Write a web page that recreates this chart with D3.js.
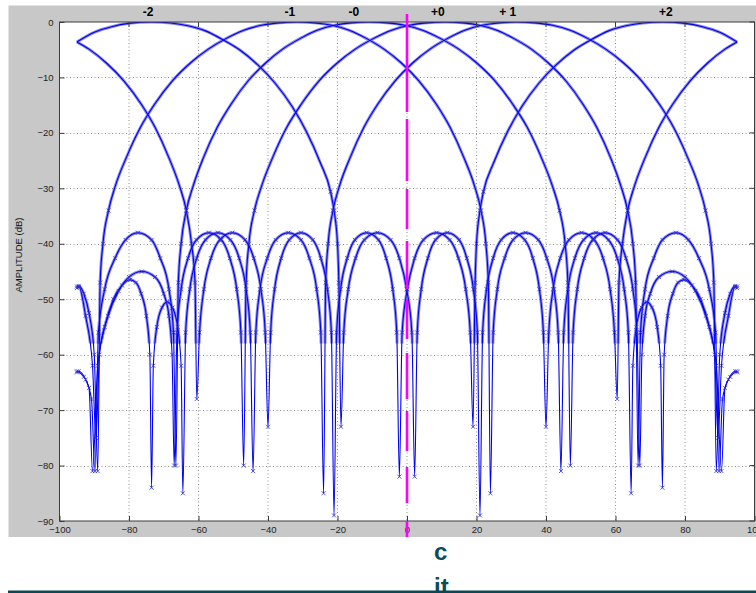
<!DOCTYPE html>
<html>
<head>
<meta charset="utf-8">
<script src="https://cdn.jsdelivr.net/npm/d3@7"></script>
<style>
  body { margin: 0; background: #ffffff; }
  svg { display: block; }
</style>
</head>
<body>
<div class="pattern-container"></div>
<script>
// beam patterns, angle (deg) vs amplitude (dB)
const beamM2 = [[-95,-3.6],[-90,-1.85],[-85,-0.85],[-80,-0.25],[-73.5,0],[-68,-0.18],[-63,-0.68],[-58,-1.6],[-53,-3.2],[-48,-5.1],[-43,-7.7],[-38,-11],[-33,-15.3],[-29,-19.7],[-25,-25.3],[-22,-30.6],[-21,-34],[-20,-40],[-19.6,-47],[-19,-73],
  [-18.2,-56],[-16.9,-48.2],[-14.8,-42.6],[-12.3,-39.3],[-8.5,-38],[-4.7,-39.3],[-2.2,-42.6],[-0.1,-48.2],[1.4,-56],[2.2,-82],
  [2.95,-56],[4.1,-48.2],[6,-42.6],[8.2,-39.3],[11.6,-38],[15,-39.3],[17.2,-42.6],[19.1,-48.2],[20.25,-56],[21,-89],
  [21.76,-56],[22.9,-48.2],[24.8,-42.6],[27.1,-39.3],[30.5,-38],[33.9,-39.3],[36.2,-42.6],[38.1,-48.2],[39.24,-56],[40,-73],
  [40.8,-56],[42.05,-48.2],[44.1,-42.6],[46.6,-39.3],[50.25,-38],[53.9,-39.3],[56.4,-42.6],[58.45,-48.2],[59.7,-56],[60.5,-68],
  [61,-47],[62,-40],[63.5,-34],[65.5,-29.5],[68.5,-24.5],[72.5,-19],[76.5,-14.8],[81.5,-10.6],[86.5,-7.4],[91.5,-4.9],[95,-3.6]]

const beamM1 = [[-95,-47.7],[-94.5,-47.6],[-93,-49],[-91.5,-52.5],[-90,-60],[-89,-81],
  [-88.3,-47],[-87.5,-40],[-85.9,-34],[-83.9,-29.5],[-80.8,-24.5],[-76.7,-19],[-72.6,-14.8],[-67.5,-10.6],[-62.35,-7.4],[-57.2,-4.9],[-52.1,-3.0],[-47,-1.5],[-41.9,-0.6],[-36.7,-0.15],[-31.6,0],[-26.6,-0.15],[-21.6,-0.6],[-16.6,-1.5],[-11.6,-3.0],[-6.6,-4.9],[-1.6,-7.4],[3.4,-10.6],[8.4,-14.8],[12.4,-19],[16.4,-24.5],[19.4,-29.5],[21.3,-34],[22.7,-40],[23.4,-47],[24,-85],
  [24.8,-56],[26,-48.2],[28.1,-42.6],[30.5,-39.3],[34.15,-38],[37.8,-39.3],[40.2,-42.6],[42.3,-48.2],[43.5,-56],[44.3,-81],
  [45.1,-56],[46.3,-48.2],[48.3,-42.6],[50.8,-39.3],[54.4,-38],[58,-39.3],[60.5,-42.6],[62.5,-48.2],[63.7,-56],[64.5,-85],
  [65,-62],[66,-55],[67.5,-51.5],[69,-50.5],[70.5,-51.5],[72,-55],[73,-62],[73.5,-84],
  [74,-60],[75,-53],[76.5,-49],[78,-47],[79.7,-46.5],[82,-47.5],[84.5,-50],[87,-55],[89,-62],[90.5,-81],
  [91.5,-66],[93,-64],[95,-63]]

const beamM0 = [[-95,-63.2],[-94.5,-63],[-92.5,-64.5],[-90.8,-68],[-89.8,-81],
  [-88.8,-56],[-87,-48.2],[-84,-42.6],[-81,-39.3],[-77.4,-38],[-73.5,-39.3],[-71,-42.6],[-68.5,-48.2],[-67.2,-56],[-66.5,-80],
  [-65.8,-47],[-65,-40],[-63.5,-34],[-61.5,-29.5],[-58.6,-24.5],[-54.6,-19],[-50.6,-14.8],[-45.7,-10.6],[-40.7,-7.4],[-35.8,-4.9],[-30.8,-3.0],[-25.9,-1.5],[-20.9,-0.6],[-16,-0.15],[-11,0],[-5.8,-0.15],[-0.64,-0.6],[4.5,-1.5],[9.7,-3.0],[14.9,-4.9],[20.1,-7.4],[25.3,-10.6],[30.4,-14.8],[34.6,-19],[38.7,-24.5],[41.8,-29.5],[43.9,-34],[45.5,-40],[46.3,-47],[47,-80],
  [47.8,-56],[49,-48.2],[51,-42.6],[53.4,-39.3],[57,-38],[60.6,-39.3],[63,-42.6],[65,-48.2],[66.2,-56],[67,-80],
  [67.6,-60],[68.5,-53],[70,-49],[72.5,-46],[76.3,-45],[80,-46],[83,-48.5],[86,-53],[88.5,-60],[89.5,-75],
  [90.5,-62],[92.5,-53],[94.4,-47.8],[95,-48]]

const beamP0 = [[-95,-48],[-94.4,-47.8],[-92.5,-53],[-90.5,-62],[-89.5,-75],
  [-88.5,-60],[-86,-53],[-83,-48.5],[-80,-46],[-76.3,-45],[-72.5,-46],[-70,-49],[-68.5,-53],[-67.6,-60],[-67,-80],
  [-66.2,-56],[-65,-48.2],[-63,-42.6],[-60.6,-39.3],[-57,-38],[-53.4,-39.3],[-51,-42.6],[-49,-48.2],[-47.8,-56],[-47,-80],
  [-46.3,-47],[-45.5,-40],[-43.9,-34],[-41.8,-29.5],[-38.7,-24.5],[-34.6,-19],[-30.4,-14.8],[-25.3,-10.6],[-20.1,-7.4],[-14.9,-4.9],[-9.7,-3.0],[-4.5,-1.5],[0.64,-0.6],[5.8,-0.15],[11,0],[16,-0.15],[20.9,-0.6],[25.9,-1.5],[30.8,-3.0],[35.8,-4.9],[40.7,-7.4],[45.7,-10.6],[50.6,-14.8],[54.6,-19],[58.6,-24.5],[61.5,-29.5],[63.5,-34],[65,-40],[65.8,-47],[66.5,-80],
  [67.2,-56],[68.5,-48.2],[71,-42.6],[73.5,-39.3],[77.4,-38],[81,-39.3],[84,-42.6],[87,-48.2],[88.8,-56],[89.8,-81],
  [90.8,-68],[92.5,-64.5],[94.5,-63],[95,-63.2]]

const beamP1 = [[-95,-63],[-93,-64],[-91.5,-66],[-90.5,-81],
  [-89,-62],[-87,-55],[-84.5,-50],[-82,-47.5],[-79.7,-46.5],[-78,-47],[-76.5,-49],[-75,-53],[-74,-60],[-73.5,-84],
  [-73,-62],[-72,-55],[-70.5,-51.5],[-69,-50.5],[-67.5,-51.5],[-66,-55],[-65,-62],[-64.5,-85],
  [-63.7,-56],[-62.5,-48.2],[-60.5,-42.6],[-58,-39.3],[-54.4,-38],[-50.8,-39.3],[-48.3,-42.6],[-46.3,-48.2],[-45.1,-56],[-44.3,-81],
  [-43.5,-56],[-42.3,-48.2],[-40.2,-42.6],[-37.8,-39.3],[-34.15,-38],[-30.5,-39.3],[-28.1,-42.6],[-26,-48.2],[-24.8,-56],[-24,-85],
  [-23.4,-47],[-22.7,-40],[-21.3,-34],[-19.4,-29.5],[-16.4,-24.5],[-12.4,-19],[-8.4,-14.8],[-3.4,-10.6],[1.6,-7.4],[6.6,-4.9],[11.6,-3.0],[16.6,-1.5],[21.6,-0.6],[26.6,-0.15],[31.6,0],[36.7,-0.15],[41.9,-0.6],[47,-1.5],[52.1,-3.0],[57.2,-4.9],[62.35,-7.4],[67.5,-10.6],[72.6,-14.8],[76.7,-19],[80.8,-24.5],[83.9,-29.5],[85.9,-34],[87.5,-40],[88.3,-47],[89,-81],
  [90,-60],[91.5,-52.5],[93,-49],[94.5,-47.6],[95,-47.7]]

const beamP2 = [[-95,-3.6],[-91.5,-4.9],[-86.5,-7.4],[-81.5,-10.6],[-76.5,-14.8],[-72.5,-19],[-68.5,-24.5],[-65.5,-29.5],[-63.5,-34],[-62,-40],[-61,-47],[-60.5,-68],
  [-59.7,-56],[-58.45,-48.2],[-56.4,-42.6],[-53.9,-39.3],[-50.25,-38],[-46.6,-39.3],[-44.1,-42.6],[-42.05,-48.2],[-40.8,-56],[-40,-73],
  [-39.24,-56],[-38.1,-48.2],[-36.2,-42.6],[-33.9,-39.3],[-30.5,-38],[-27.1,-39.3],[-24.8,-42.6],[-22.9,-48.2],[-21.76,-56],[-21,-89],
  [-20.25,-56],[-19.1,-48.2],[-17.2,-42.6],[-15,-39.3],[-11.6,-38],[-8.2,-39.3],[-6,-42.6],[-4.1,-48.2],[-2.95,-56],[-2.2,-82],
  [-1.4,-56],[0.1,-48.2],[2.2,-42.6],[4.7,-39.3],[8.5,-38],[12.3,-39.3],[14.8,-42.6],[16.9,-48.2],[18.2,-56],[19,-73],
  [19.6,-47],[20,-40],[21,-34],[22,-30.6],[25,-25.3],[29,-19.7],[33,-15.3],[38,-11],[43,-7.7],[48,-5.1],[53,-3.2],[58,-1.6],[63,-0.68],[68,-0.18],[73.5,0],[80,-0.25],[85,-0.85],[90,-1.85],[95,-3.6]]

const beams = [beamM2, beamM1, beamM0, beamP0, beamP1, beamP2]
const beamNames = ['-2', '-1', '-0', '+0', '+ 1', '+2']
const nameAt = [-74.5, -33.7, -15.3, 8.9, 29, 74.5]

const xTicks = [-100, -80, -60, -40, -20, 0, 20, 40, 60, 80, 100]
const yTicks = [0, -10, -20, -30, -40, -50, -60, -70, -80, -90]
const markerAngle = 0

let dims = {
    width: 756,
    height: 593,
    margin: { top: 22, bottom: 72, left: 59.5, right: 1.5 }
}

const svg = d3.select('.pattern-container')
    .append('svg')
    .attr('width', dims.width)
    .attr('height', dims.height)

const plotW = dims.width - dims.margin.left - dims.margin.right
const plotH = dims.height - dims.margin.top - dims.margin.bottom

// grey figure background
svg.append('rect')
    .attr('x', 8.5).attr('y', 5.5)
    .attr('width', dims.width - 8.5).attr('height', 531.5)
    .attr('fill', '#c8c8c8')

const xScale = d3.scaleLinear().domain([-100, 100]).range([0, plotW])
const yScale = d3.scaleLinear().domain([-90, 0]).range([plotH, 0])

const container = svg.append('g')
    .attr('transform', `translate(${dims.margin.left},${dims.margin.top})`)

container.append('rect')
    .attr('width', plotW).attr('height', plotH)
    .attr('fill', '#ffffff')

container.append('clipPath').attr('id', 'plotclip')
    .append('rect').attr('width', plotW).attr('height', plotH)

// the thick look of the dense markers stops around -58 dB, spikes below are thin
container.append('clipPath').attr('id', 'haloclip')
    .append('rect').attr('width', plotW).attr('height', yScale(-58))

// dotted grid
container.append('g')
    .selectAll('line')
    .data(xTicks.slice(1, -1))
    .join('line')
    .attr('x1', d => xScale(d)).attr('x2', d => xScale(d))
    .attr('y1', 0).attr('y2', plotH)
    .attr('stroke', '#8c8c8c').attr('stroke-width', 1)
    .attr('stroke-dasharray', '1,2.5')

container.append('g')
    .selectAll('line')
    .data(yTicks.slice(1, -1))
    .join('line')
    .attr('x1', 0).attr('x2', plotW)
    .attr('y1', d => Math.round(yScale(d)) + 0.5).attr('y2', d => Math.round(yScale(d)) + 0.5)
    .attr('stroke', '#8c8c8c').attr('stroke-width', 1)
    .attr('stroke-dasharray', '1,2.5')

// beam curves
const line = d3.line()
    .x(d => xScale(d[0]))
    .y(d => yScale(d[1]))
    .curve(d3.curveMonotoneX)

const curves = container.append('g').attr('clip-path', 'url(#plotclip)')

curves.append('g').attr('clip-path', 'url(#haloclip)')
    .selectAll('path')
    .data(beams)
    .join('path')
    .attr('d', line)
    .attr('fill', 'none')
    .attr('stroke', '#8c8ce4')
    .attr('stroke-width', 3)
    .attr('stroke-linejoin', 'round')

curves.append('g')
    .selectAll('path')
    .data(beams)
    .join('path')
    .attr('d', line)
    .attr('fill', 'none')
    .attr('stroke', '#0000f4')
    .attr('stroke-width', 1.1)
    .attr('stroke-linejoin', 'round')

// x markers at the lower samples
const lowPoints = beams.flat().filter(d => d[1] < -30)
curves.selectAll('path.mark')
    .data(lowPoints)
    .join('path')
    .attr('class', 'mark')
    .attr('transform', d => `translate(${xScale(d[0])},${yScale(d[1])})`)
    .attr('d', 'M-2,-2L2,2M-2,2L2,-2')
    .attr('stroke', '#3030d0')
    .attr('stroke-width', 0.8)

// box and ticks
const boxColor = '#3c3c3c'
container.append('rect')
    .attr('width', plotW).attr('height', plotH)
    .attr('fill', 'none').attr('stroke', boxColor).attr('stroke-width', 1)

const xAxis = d3.axisBottom(xScale).tickValues(xTicks).tickSize(-5).tickPadding(5)
const yAxis = d3.axisLeft(yScale).tickValues(yTicks).tickSize(-5).tickPadding(6)

const xAxisGroup = container.append('g')
    .attr('transform', `translate(0, ${plotH})`)
    .call(xAxis)
xAxisGroup.select('.domain').remove()
xAxisGroup.selectAll('line').attr('stroke', boxColor)
xAxisGroup.selectAll('text')
    .attr('font-family', 'Liberation Sans, Arial, sans-serif')
    .attr('font-size', '9.5px')
    .attr('fill', '#1e1e1e')

const yAxisGroup = container.append('g').call(yAxis)
yAxisGroup.select('.domain').remove()
yAxisGroup.selectAll('line').attr('stroke', boxColor)
yAxisGroup.selectAll('text')
    .attr('font-family', 'Liberation Sans, Arial, sans-serif')
    .attr('font-size', '9.5px')
    .attr('fill', '#1e1e1e')

// ticks on the right and top edges
container.append('g')
    .selectAll('line')
    .data(yTicks)
    .join('line')
    .attr('x1', plotW).attr('x2', plotW - 5)
    .attr('y1', d => yScale(d)).attr('y2', d => yScale(d))
    .attr('stroke', boxColor)
container.append('g')
    .selectAll('line')
    .data(xTicks)
    .join('line')
    .attr('x1', d => xScale(d)).attr('x2', d => xScale(d))
    .attr('y1', 0).attr('y2', 5)
    .attr('stroke', boxColor)

// y label
container.append('text')
    .attr('transform', `translate(${22 - dims.margin.left}, ${255 - dims.margin.top}) rotate(-90)`)
    .attr('text-anchor', 'middle')
    .attr('font-family', 'Liberation Sans, Arial, sans-serif')
    .attr('font-size', '9.5px')
    .attr('fill', '#111')
    .text('AMPLITUDE (dB)')

// beam names across the top
container.selectAll('text.beam')
    .data(beamNames)
    .join('text')
    .attr('class', 'beam')
    .attr('x', (d, i) => xScale(nameAt[i]))
    .attr('y', -6)
    .attr('text-anchor', 'middle')
    .attr('font-family', 'Liberation Sans, Arial, sans-serif')
    .attr('font-weight', 'bold')
    .attr('font-size', '12px')
    .attr('fill', '#000')
    .text(d => d)

// boresight marker
container.append('line')
    .attr('x1', xScale(markerAngle)).attr('x2', xScale(markerAngle))
    .attr('y1', -8).attr('y2', 515 - dims.margin.top + 22)
    .attr('stroke', '#ff00ff')
    .attr('stroke-width', 2.6)
    .attr('stroke-dasharray', '98,7,62,8,40,12,48,10,40,14,46,12,40,16,36,18,40')

// slide text and rule below the figure
svg.append('text')
    .attr('x', 434).attr('y', 560)
    .attr('font-family', 'Liberation Sans, Arial, sans-serif')
    .attr('font-weight', 'bold')
    .attr('font-size', '24px')
    .attr('fill', '#0e4b5a')
    .text('c')
svg.append('text')
    .attr('x', 434).attr('y', 595)
    .attr('font-family', 'Liberation Sans, Arial, sans-serif')
    .attr('font-weight', 'bold')
    .attr('font-size', '24px')
    .attr('fill', '#0e4b5a')
    .text('it')
svg.append('rect')
    .attr('x', 8).attr('y', 590.5)
    .attr('width', dims.width - 8).attr('height', 3)
    .attr('fill', '#0b4652')
</script>
</body>
</html>
